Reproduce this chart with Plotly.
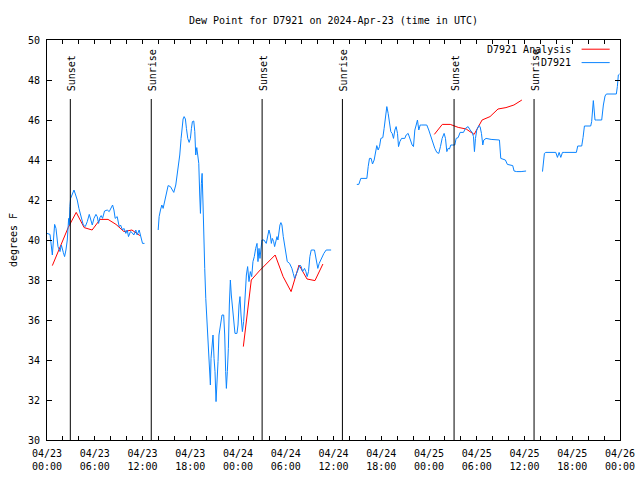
import plotly.graph_objects as go
from datetime import datetime, timedelta

BASE = datetime(2024, 4, 23)

# Observed dew point (D7921), hours after 2024-04-23 00:00 UTC; None = gap
blue_hours = [
    0.0, 0.38, 0.67, 0.96, 1.13, 1.38, 1.63, 1.80, 2.05, 2.21, 2.38, 2.55, 2.72, 2.80, 2.88, 2.97,
    3.14, 3.39, 3.60, 3.80, 4.01, 4.31, 4.56, 4.81, 5.06, 5.31, 5.48, 5.69, 5.90, 6.15, 6.31, 6.48,
    6.65, 6.81, 6.98, 7.23, 7.57, 7.82, 8.24, 8.41, 8.57, 8.82, 9.07, 9.24, 9.49, 9.66, 9.91, 10.08,
    10.24, 10.49, 10.66, 10.91, 11.16, 11.33, 11.58, 11.75, 12.00, 12.25,
    13.0,
    13.97, 14.09, 14.26, 14.43, 14.59, 14.80, 15.01, 15.22, 15.51, 15.76, 15.93, 16.18, 16.35, 16.52,
    16.68, 16.85, 16.98, 17.10, 17.23, 17.39, 17.52, 17.69, 17.86, 18.02, 18.15, 18.27, 18.44, 18.57,
    18.69, 18.82, 18.94, 19.07, 19.19, 19.28, 19.40, 19.49, 19.61, 19.69, 19.82, 19.95, 20.11, 20.28,
    20.36, 20.53, 20.61, 20.78, 20.86, 20.99, 21.11, 21.24, 21.36, 21.49, 21.61, 21.74, 21.86, 21.99,
    22.20, 22.33, 22.45, 22.54, 22.66, 22.79, 22.91, 23.04, 23.16, 23.29, 23.46, 23.62, 23.87, 24.00,
    24.13, 24.25, 24.38, 24.55, 24.71, 24.88, 25.05, 25.21, 25.38, 25.55, 25.72, 25.88, 26.05, 26.22,
    26.39, 26.51, 26.64, 26.76, 26.89, 27.01, 27.14, 27.26, 27.55, 27.76, 27.89, 28.06, 28.19, 28.31,
    28.48, 28.60, 28.77, 28.90, 29.02, 29.14, 29.27, 29.39, 29.52, 29.69, 29.85, 30.02, 30.19, 30.48,
    30.77, 30.94, 31.11, 31.28, 31.53, 31.78, 31.94, 32.11, 32.36, 32.53, 32.69, 32.86, 33.03, 33.20,
    33.61, 33.83, 34.03, 34.20, 34.37, 34.58, 34.79, 35.08, 35.70,
    37.0,
    38.93, 39.18, 39.43, 40.19, 40.36, 40.52, 40.73, 40.90, 41.11, 41.28, 41.44, 41.61, 41.78, 41.95,
    42.20, 42.36, 42.53, 42.70, 42.87, 43.03, 43.20, 43.37, 43.54, 43.71, 43.87, 44.04, 44.17, 44.34,
    44.55, 44.96, 45.13, 45.38, 45.63, 45.88, 46.05, 46.22, 46.39, 46.55, 46.72, 46.89, 47.05, 47.72,
    47.97, 48.22, 48.48, 48.73, 48.98, 49.23, 49.44, 49.65, 49.90, 50.07, 50.24, 50.40, 50.57, 50.74,
    50.99, 51.24, 51.41, 51.66, 51.91, 52.33, 52.58, 52.91, 53.17, 53.42, 53.59, 53.71, 53.84, 54.00,
    54.26, 54.42, 54.59, 54.67, 54.76, 54.88, 55.17, 55.80, 56.43, 56.85, 57.02, 57.27, 57.60, 57.85,
    58.19, 58.52, 58.69, 59.02, 59.57, 59.86, 60.20,
    61.2,
    62.26, 62.34, 62.50, 62.68, 63.93, 64.14, 64.35, 64.56, 64.77, 64.98, 66.52, 66.69, 67.19, 67.36,
    67.53, 68.32, 68.44, 68.65, 68.86, 69.03, 69.70, 69.91, 70.12, 70.29, 71.54, 71.67, 71.79, 71.95,
]
blue_vals = [
    40.33, 40.28, 39.25, 40.78, 40.58, 39.67, 39.42, 39.75, 39.38, 39.17, 39.50, 40.00, 41.08, 40.75, 41.67, 42.08,
    42.25, 42.50, 42.25, 42.00, 41.58, 41.17, 40.75, 40.67, 40.92, 41.28, 41.00, 40.75, 41.08, 41.28, 41.17, 40.83,
    41.12, 41.22, 41.08, 41.45, 41.50, 41.42, 41.75, 41.50, 41.08, 41.17, 40.67, 40.75, 40.50, 40.58, 40.33, 40.50,
    40.17, 40.42, 40.38, 40.25, 40.50, 40.25, 40.50, 40.25, 39.83, 39.83,
    None,
    40.50, 41.17, 41.50, 41.75, 41.58, 41.92, 42.33, 42.72, 42.67, 42.50, 42.38, 42.75, 43.25, 43.75,
    44.25, 45.08, 45.67, 46.05, 46.17, 46.05, 45.58, 45.08, 44.88, 45.08, 45.58, 45.92, 45.95, 45.42,
    44.25, 44.62, 44.25, 43.83, 42.25, 41.33, 42.83, 43.33, 41.75, 39.92, 38.58, 37.08, 35.75, 34.58,
    33.42, 32.75, 34.08, 35.08, 35.25, 34.08, 33.42, 31.92, 32.75, 33.92, 35.25, 35.58, 36.08, 36.25,
    36.25, 35.25, 33.42, 32.58, 33.42, 34.58, 36.75, 38.00, 37.25, 36.75, 35.92, 35.33, 35.33, 35.75,
    36.75, 37.17, 36.25, 35.42, 35.92, 37.50, 38.25, 38.67, 37.92, 38.42, 38.17, 38.92, 39.17, 39.58,
    39.83, 38.92, 39.58, 39.08, 39.75, 40.00, 40.00, 40.00, 39.83, 40.25, 40.50, 40.25, 39.83, 40.08,
    39.92, 39.67, 39.92, 40.17, 40.00, 40.42, 40.75, 40.87, 40.75, 40.17, 39.83, 39.33, 38.92, 38.83,
    38.58, 38.33, 38.08, 38.25, 38.50, 38.75, 38.67, 38.42, 38.58, 38.42, 38.17, 38.42, 39.17, 39.50,
    39.50, 39.00, 38.58, 38.83, 39.00, 39.17, 39.33, 39.50, 39.50,
    None,
    42.78, 42.78, 43.08, 43.08, 43.67, 44.08, 44.08, 43.80, 44.00, 44.38, 44.72, 44.50, 44.67, 45.08,
    45.12, 45.58, 46.08, 46.67, 46.33, 45.83, 45.42, 45.33, 45.08, 45.50, 45.67, 45.33, 44.67, 44.92,
    45.08, 45.08, 45.25, 45.33, 45.00, 44.75, 44.67, 45.50, 45.75, 46.00, 45.50, 45.75, 45.75, 45.75,
    45.50, 45.17, 44.83, 44.58, 44.38, 44.33, 44.67, 45.08, 45.33, 45.08, 44.42, 44.58, 44.55, 44.75,
    44.75, 44.75, 45.08, 45.12, 45.38, 45.38, 45.58, 45.67, 45.50, 45.38, 45.17, 44.42, 45.08, 45.50,
    45.72, 45.67, 45.33, 45.08, 44.75, 45.00, 45.08, 45.03, 45.00, 45.00, 44.08, 44.05, 44.00, 43.78,
    43.75, 43.72, 43.45, 43.42, 43.42, 43.45, 43.45,
    None,
    43.42, 43.67, 44.33, 44.38, 44.38, 44.13, 44.38, 44.13, 44.38, 44.38, 44.38, 44.70, 44.70, 45.13,
    45.70, 45.70, 45.92, 46.97, 46.00, 46.00, 46.00, 46.75, 47.20, 47.30, 47.30, 47.67, 48.25, 48.30,
]

# Hourly analysis (D7921 Analysis)
red_hours = [
    0.67, 1.67, 2.67, 3.67, 4.67, 5.67, 6.67, 7.67, 8.67, 9.67, 10.67, 11.67,
    18.0,
    24.67, 25.67, 26.67, 27.67, 28.67, 29.67, 30.67, 31.67, 32.67, 33.67, 34.67,
    40.0,
    48.67, 49.67, 50.67, 51.67, 52.67, 53.67, 54.67, 55.67, 56.67, 57.67, 58.67, 59.67,
]
red_vals = [
    38.72, 39.68, 40.63, 41.38, 40.62, 40.50, 41.03, 41.03, 40.78, 40.42, 40.50, 40.22,
    None,
    34.67, 38.00, 38.45, 38.87, 39.25, 38.17, 37.42, 38.75, 38.05, 37.97, 38.80,
    None,
    45.28, 45.78, 45.78, 45.63, 45.55, 45.28, 46.00, 46.17, 46.55, 46.62, 46.75, 47.00,
]

sun_hours = [2.93, 13.1, 27.03, 37.12, 51.15, 61.2]
sun_labels = ["Sunset", "Sunrise", "Sunset", "Sunrise", "Sunset", "Sunrise"]

y_min, y_max = 30, 50
sun_line_top = 47.05
legend_names = ["D7921 Analysis", "D7921"]

RED = "#ff0000"
BLUE = "#0a84ff"
FONT = "DejaVu Sans Mono, monospace"


def t(h):
    return BASE + timedelta(hours=h)


fig = go.Figure()
fig.add_trace(go.Scatter(x=[t(h) for h in red_hours], y=red_vals, mode="lines",
                         line=dict(color=RED, width=1), name=legend_names[0],
                         connectgaps=False, showlegend=False))
fig.add_trace(go.Scatter(x=[t(h) for h in blue_hours], y=blue_vals, mode="lines",
                         line=dict(color=BLUE, width=1), name=legend_names[1],
                         connectgaps=False, showlegend=False))

for h, lab in zip(sun_hours, sun_labels):
    fig.add_shape(type="line", xref="x", yref="y", x0=t(h), x1=t(h), y0=y_min, y1=sun_line_top,
                  line=dict(color="black", width=1))
    fig.add_annotation(x=t(h), y=47.35, xref="x", yref="y", text=lab, textangle=-90,
                       showarrow=False, xanchor="center", yanchor="bottom", xshift=1,
                       font=dict(family=FONT, size=10, color="black"))

# legend (text right-aligned, sample line to the right)
for i, (name, col) in enumerate(zip(legend_names, [RED, BLUE])):
    yp = 0.977 - i * 0.0335
    fig.add_annotation(x=0.918, y=yp, xref="paper", yref="paper", text=name, showarrow=False,
                       xanchor="right", yanchor="middle",
                       font=dict(family=FONT, size=10, color="black"))
    fig.add_shape(type="line", xref="paper", yref="paper", x0=0.933, x1=0.982, y0=yp, y1=yp,
                  line=dict(color=col, width=1))

tick_hours = list(range(0, 73, 2))
tick_vals = [t(h) for h in tick_hours]
tick_text = [t(h).strftime("%m/%d<br>%H:%M") if h % 6 == 0 else "" for h in tick_hours]

fig.update_layout(
    width=640, height=480,
    margin=dict(l=47, r=20, t=40, b=40, autoexpand=False),
    paper_bgcolor="white", plot_bgcolor="white",
    font=dict(family=FONT, size=10, color="black"),
    title=dict(text="Dew Point for D7921 on 2024-Apr-23 (time in UTC)", x=0.5, xref="paper",
               xanchor="center", y=1 - 20 / 480, yref="container", yanchor="middle",
               font=dict(family=FONT, size=10, color="black")),
    showlegend=False,
)
fig.update_xaxes(range=[t(0), t(72)], tickvals=tick_vals, ticktext=tick_text, tickangle=0,
                 ticks="inside", ticklen=4, tickcolor="black", showgrid=False, zeroline=False,
                 showline=True, linecolor="black", linewidth=1, mirror="ticks", automargin=False,
                 ticklabelstandoff=4,
                 tickfont=dict(family=FONT, size=10, color="black"))
fig.update_yaxes(range=[y_min, y_max], tickmode="linear", tick0=30, dtick=2,
                 ticks="inside", ticklen=5, tickcolor="black", showgrid=False, zeroline=False,
                 showline=True, linecolor="black", linewidth=1, mirror="ticks", automargin=False,
                 ticklabelstandoff=4,
                 title=dict(text="degrees F", standoff=8, font=dict(family=FONT, size=10, color="black")),
                 tickfont=dict(family=FONT, size=10, color="black"))

fig.write_html("out.html", config={"displayModeBar": False},
               post_script="document.body.style.margin='0';")
